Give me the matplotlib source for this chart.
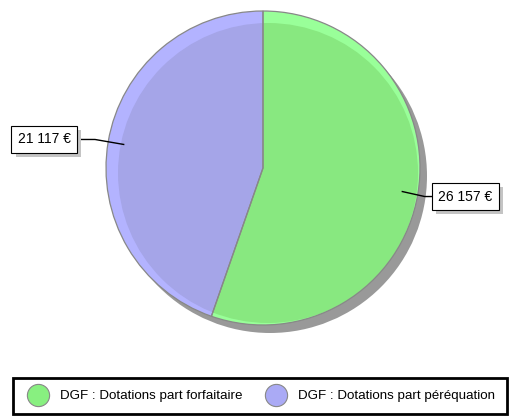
import numpy as np
import matplotlib.pyplot as plt
import matplotlib.patheffects as pe
from matplotlib.patches import Circle, Wedge
from matplotlib.lines import Line2D

plt.rcParams['font.family'] = ['Liberation Sans', 'DejaVu Sans']

categories = ['DGF : Dotations part forfaitaire', 'DGF : Dotations part péréquation']
values = [26157, 21117]
value_labels = ['26 157 €', '21 117 €']
colors = ['#88e880', '#a5a5e8']
light_colors = ['#99ff99', '#b3b3ff']
legend_colors = ['#88f080', '#aaaaf5']

W, H = 518, 419
fig = plt.figure(figsize=(W / 100, H / 100), dpi=100)
ax = fig.add_axes([0, 0, 1, 1])

cx, cy, r = 263, H - 168, 157

# drop shadow under the pie
ax.add_patch(Circle((cx + 7, cy - 8), r, facecolor='#999999', edgecolor='none', zorder=1))

wedges, _ = ax.pie(values, colors=light_colors, startangle=90, counterclock=False,
                   center=(cx, cy), radius=r,
                   wedgeprops=dict(edgecolor='none', zorder=2))

# inner, darker part of each wedge (gives the glossy rim)
for w, c in zip(wedges, colors):
    inner = Circle((cx + 5, cy - 5), r - 7, facecolor=c, edgecolor='none', zorder=3)
    ax.add_patch(inner)
    inner.set_clip_path(w)

# outlines on top
for w in wedges:
    ax.add_patch(Wedge((cx, cy), r, w.theta1, w.theta2, facecolor='none',
                       edgecolor='#888888', linewidth=0.9, zorder=4))

# value labels with leader lines
fs = 10
pad_px = 0.45 * fs * 100 / 72
shadow = [pe.withSimplePatchShadow(offset=(3, -3), shadow_rgbFace='#c4c4c4', alpha=1)]
for w, lab in zip(wedges, value_labels):
    mid = np.deg2rad((w.theta1 + w.theta2) / 2)
    side = 1 if np.cos(mid) > 0 else -1
    x0 = cx + 0.9 * r * np.cos(mid)
    y0 = cy + 0.9 * r * np.sin(mid)
    ly = cy + 1.09 * r * np.sin(mid)
    kx = cx + side * (1.03 if side > 0 else 1.07) * r
    lx = cx + side * (1.076 if side > 0 else 1.185) * r
    ax.plot([x0, kx, lx], [y0, ly, ly], color='black', lw=1, zorder=5)
    t = ax.text(lx + side * pad_px, ly, lab, ha='left' if side > 0 else 'right', va='center',
                fontsize=fs, color='black', zorder=6,
                bbox=dict(boxstyle='square,pad=0.45', facecolor='white', edgecolor='black',
                          linewidth=0.8))
    t.get_bbox_patch().set_path_effects(shadow)

ax.set_xlim(0, W)
ax.set_ylim(0, H)
ax.axis('off')

handles = [Line2D([], [], linestyle='none', marker='o', markersize=16,
                  markerfacecolor=c, markeredgecolor='#888888', markeredgewidth=0.8)
           for c in legend_colors]
leg = fig.legend(handles, categories, loc='center', ncol=2,
                 bbox_to_anchor=(260 / W, (H - 396) / H), fontsize=9.6,
                 frameon=True, fancybox=False, borderaxespad=0, handletextpad=0.7,
                 columnspacing=1.6, handlelength=1.9, borderpad=0.9, framealpha=1)
leg.get_frame().set_edgecolor('black')
leg.get_frame().set_linewidth(2)

fig.savefig('out.png', dpi=100)
